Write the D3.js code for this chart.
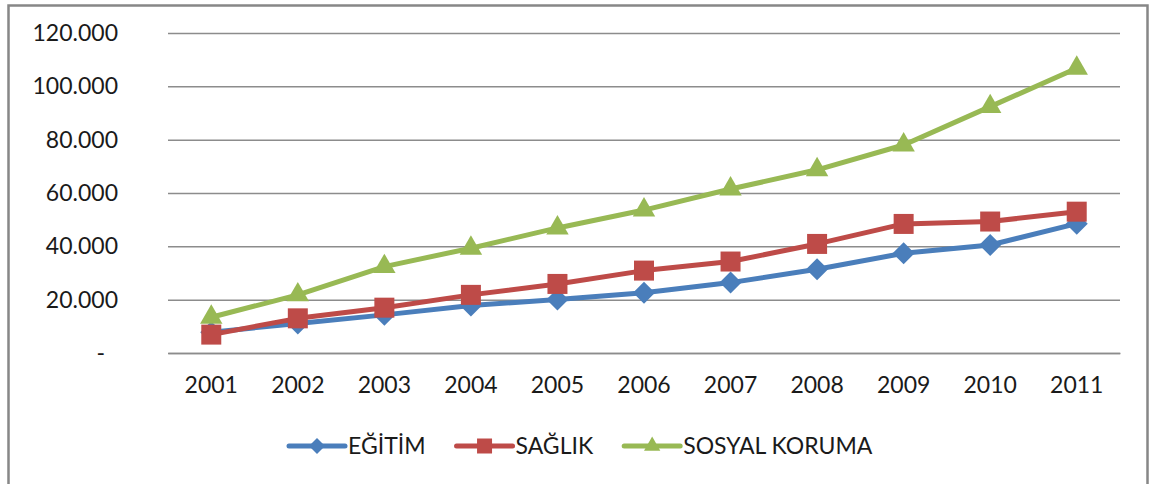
<!DOCTYPE html>
<html>
<head>
<meta charset="utf-8">
<script src="https://cdn.jsdelivr.net/npm/d3@7"></script>
<style>
  body { margin: 0; background: #fff; }
  svg text { font-family: Lato, "Open Sans", sans-serif; fill: #1a1a1a; }
</style>
</head>
<body>
<svg id="chart" width="1152" height="484"></svg>
<script>
const years = ["2001", "2002", "2003", "2004", "2005", "2006", "2007", "2008", "2009", "2010", "2011"];
const egitim = [7800, 11100, 14300, 17800, 20100, 22600, 26400, 31400, 37400, 40500, 48500];
const saglik = [6900, 13000, 17000, 21800, 25900, 30900, 34300, 40900, 48400, 49300, 53000];
const sosyalKoruma = [13400, 21800, 32400, 39300, 46900, 53600, 61500, 68700, 78000, 92400, 106800];
const seriesNames = ["EĞİTİM", "SAĞLIK", "SOSYAL KORUMA"];
const yTicks = [0, 20000, 40000, 60000, 80000, 100000, 120000];

const series = [
  { name: seriesNames[0], values: egitim, color: "#4A7EBB", shape: "diamond" },
  { name: seriesNames[1], values: saglik, color: "#BE4B48", shape: "square" },
  { name: seriesNames[2], values: sosyalKoruma, color: "#98B954", shape: "triangle" }
];

const svg = d3.select("#chart");
const margin = { left: 168, right: 32, top: 33, bottom: 131 };
const width = +svg.attr("width");
const height = +svg.attr("height");

// outer chart frame
svg.append("rect")
    .attr("x", 8.5).attr("y", 5.5)
    .attr("width", 1139).attr("height", 500)
    .attr("fill", "#fff")
    .attr("stroke", "#878787")
    .attr("stroke-width", 2.5);

const x = d3.scaleBand()
    .domain(years)
    .range([margin.left, width - margin.right]);
const y = d3.scaleLinear()
    .domain([0, 120000])
    .range([height - margin.bottom, margin.top]);

const locale = d3.formatLocale({ decimal: ",", thousands: ".", grouping: [3], currency: ["", ""] });
const fmt = locale.format(",.0f");

// y axis with gridlines
const yAxis = svg.append("g")
    .attr("transform", "translate(" + margin.left + ",0)")
    .call(d3.axisLeft(y)
      .tickValues(yTicks)
      .tickSize(-(width - margin.left - margin.right))
      .tickPadding(50)
      .tickFormat(d => d === 0 ? "-" : fmt(d)));
yAxis.select(".domain").remove();
yAxis.selectAll(".tick line")
    .attr("stroke", "#8c8c8c")
    .attr("stroke-width", 1.5);
yAxis.selectAll(".tick text")
    .attr("font-size", 23)
    .attr("fill", "#1a1a1a")
    .attr("dx", d => d === 0 ? -13 : 0);

// x axis
const xAxis = svg.append("g")
    .attr("transform", "translate(0," + y(0) + ")")
    .call(d3.axisBottom(x).tickSize(0).tickPadding(24));
xAxis.select(".domain")
    .attr("stroke", "#8c8c8c")
    .attr("stroke-width", 1.5);
xAxis.selectAll(".tick text")
    .attr("font-size", 23)
    .attr("fill", "#1a1a1a");

function markerPath(shape, s) {
  if (shape === "square") return d3.symbol(d3.symbolSquare, s * s)();
  if (shape === "diamond") return d3.symbol(d3.symbolSquare, s * s / 2)();
  return d3.symbol(d3.symbolTriangle, s * s * 0.45)();
}

const line = d3.line()
    .x((d, i) => x(years[i]) + x.bandwidth() / 2)
    .y(d => y(d));

series.forEach(s => {
  svg.append("path")
      .datum(s.values)
      .attr("fill", "none")
      .attr("stroke", s.color)
      .attr("stroke-width", 5)
      .attr("stroke-linejoin", "round")
      .attr("d", line);

  const size = s.shape === "square" ? 20 : 22;
  svg.append("g").selectAll("path")
    .data(s.values)
    .join("path")
      .attr("d", markerPath(s.shape, size))
      .attr("transform", (d, i) => "translate(" + (x(years[i]) + x.bandwidth() / 2) + "," + y(d) + ")" + (s.shape === "diamond" ? " rotate(45)" : ""))
      .attr("fill", s.color);
});

// legend
const legend = svg.append("g");
let lx = 289;
const ly = 446;
series.forEach(s => {
  legend.append("line")
      .attr("x1", lx).attr("x2", lx + 56)
      .attr("y1", ly).attr("y2", ly)
      .attr("stroke", s.color)
      .attr("stroke-width", 5)
      .attr("stroke-linecap", "round");
  const size = s.shape === "square" ? 15 : 16;
  legend.append("path")
      .attr("d", markerPath(s.shape, size))
      .attr("transform", "translate(" + (lx + 28) + "," + ly + ")" + (s.shape === "diamond" ? " rotate(45)" : ""))
      .attr("fill", s.color);
  const t = legend.append("text")
      .attr("x", lx + 59)
      .attr("y", ly)
      .attr("dy", "0.36em")
      .attr("font-size", 23)
      .text(s.name);
  lx += 59 + t.node().getComputedTextLength() + 31;
});
</script>
</body>
</html>
